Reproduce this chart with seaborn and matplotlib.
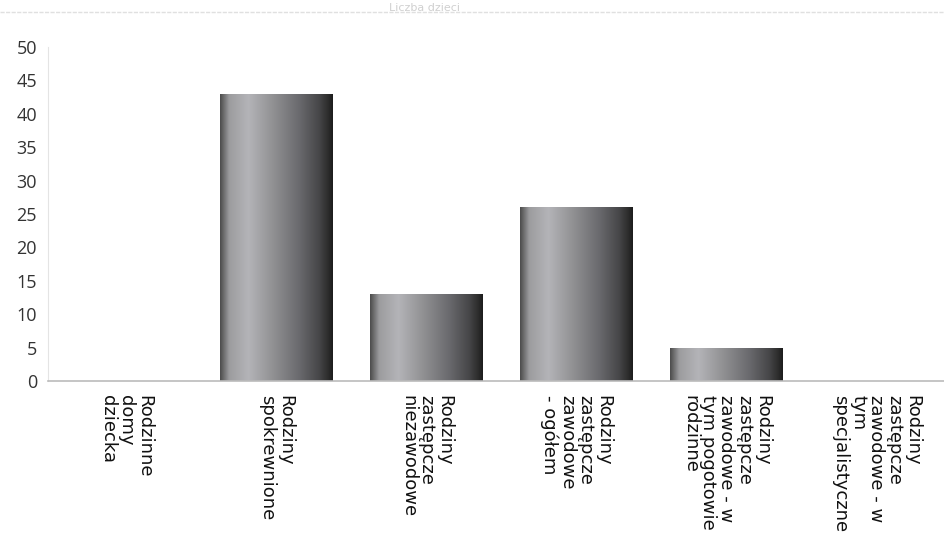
import numpy as np
import pandas as pd
import matplotlib
matplotlib.use('Agg')
import matplotlib.pyplot as plt
from matplotlib.colors import LinearSegmentedColormap
import seaborn as sns

# dane
kategorie = [
    'Rodzinne\ndomy\ndziecka',
    'Rodziny\nspokrewnione',
    'Rodziny\nzastępcze\nniezawodowe',
    'Rodziny\nzastępcze\nzawodowe\n- ogółem',
    'Rodziny\nzastępcze\nzawodowe - w\ntym pogotowie\nrodzinne',
    'Rodziny\nzastępcze\nzawodowe - w\ntym\nspecjalistyczne',
]
wartosci = [0, 43, 13, 26, 5, 0]
y_ticks = [0, 5, 10, 15, 20, 25, 30, 35, 40, 45, 50]

df = pd.DataFrame({'kategoria': kategorie, 'wartosc': wartosci})

sns.set_style('white')

fig = plt.figure(figsize=(9.44, 5.33), dpi=100)
ax = fig.add_axes([0.051, 0.285, 0.949, 0.627])

sns.barplot(data=df, x='kategoria', y='wartosc', color='#777777', width=0.75, ax=ax)

# metaliczny gradient na slupkach
metal = LinearSegmentedColormap.from_list('metal', [
    (0.0, '#4c4c4c'), (0.08, '#9c9c9e'), (0.25, '#b4b4b8'),
    (0.5, '#8c8c8e'), (0.7, '#6a6a6e'), (0.88, '#464648'),
    (0.96, '#2c2c2c'), (1.0, '#1c1c1c')])
grad = np.linspace(0, 1, 256).reshape(1, -1)
for p in list(ax.patches):
    h = p.get_height()
    if h <= 0:
        continue
    x0 = p.get_x()
    w = p.get_width()
    im = ax.imshow(grad, cmap=metal, aspect='auto', extent=(x0, x0 + w, 0, h),
                   zorder=p.get_zorder() + 0.1, interpolation='bicubic')
    im.set_clip_path(p)

ax.set_xlim(-0.52, 5.45)
ax.set_ylim(0, 50)
ax.set_yticks(y_ticks)
ax.set_yticklabels([str(t) for t in y_ticks], fontsize=13, color='#333333',
                   family='Open Sans')
ax.set_xticks(range(len(kategorie)))
ax.set_xticklabels(kategorie, rotation=270, fontsize=13, color='#111111',
                   family='DejaVu Sans', ha='center', va='top',
                   multialignment='left', linespacing=1.0)
ax.tick_params(axis='both', length=0, pad=8)
ax.tick_params(axis='x', pad=10)
ax.set_xlabel('')
ax.set_ylabel('')

for s in ['top', 'right']:
    ax.spines[s].set_visible(False)
ax.spines['left'].set_color('#e4e4e4')
ax.spines['bottom'].set_color('#bbbbbb')
ax.spines['bottom'].set_linewidth(1.2)

# wyblakly naglowek u gory
fig.text(0.45, 0.995, 'Liczba dzieci', fontsize=8, color='#d0d0d0', ha='center', va='top')
fig.add_artist(plt.Line2D([0.0, 1.0], [0.978, 0.978], color='#e0e0e0', lw=1,
                          ls=(0, (3, 1))))

fig.savefig('out.png', dpi=100)
